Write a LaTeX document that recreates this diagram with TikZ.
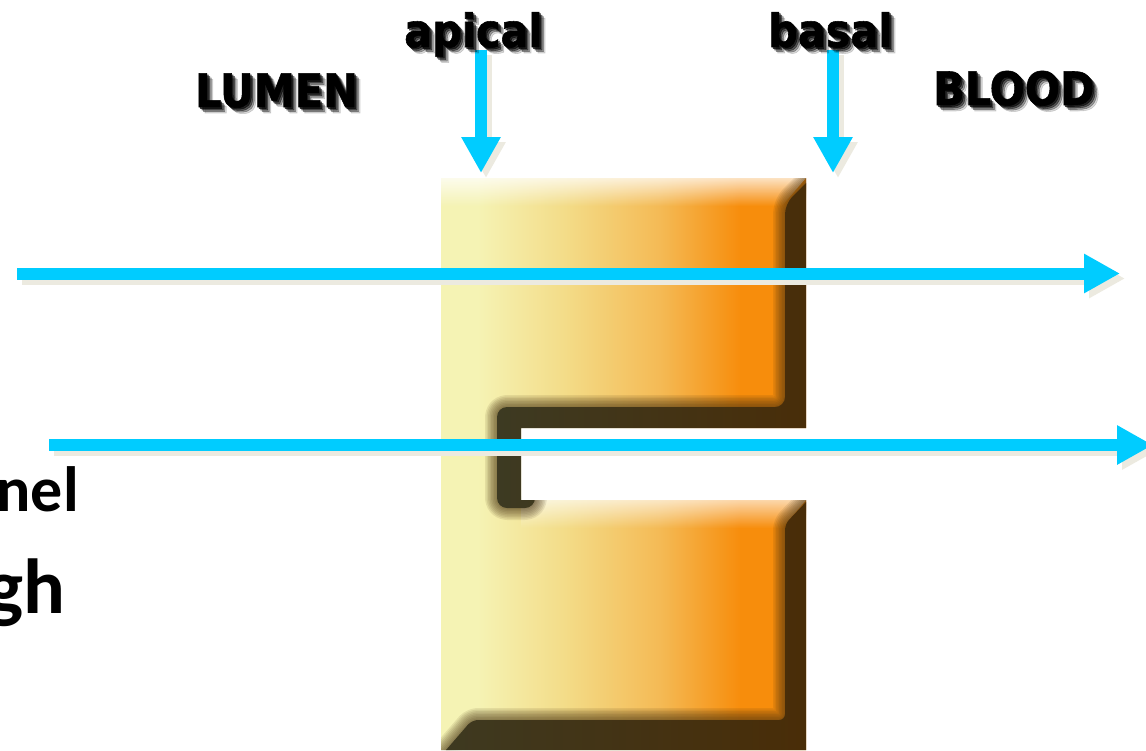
\documentclass[tikz,border=0pt]{standalone}
\usepackage{fontspec}
\newfontfamily\lblfont[FakeStretch=0.9,FakeBold=1.2]{DejaVu Sans}
\newfontfamily\bodyfont{Carlito}
\usetikzlibrary{arrows.meta,fadings}
\definecolor{arrowblue}{HTML}{00CCFF}
\definecolor{arrowshadow}{HTML}{ECEAE0}
\definecolor{cL}{HTML}{F5F3B4}
\definecolor{cM1}{HTML}{F3DC88}
\definecolor{cM2}{HTML}{F4BA55}
\definecolor{cR}{HTML}{F78D0C}
\definecolor{darkbrown}{HTML}{4A2C06}
\definecolor{darkolive}{HTML}{3D3A22}
\definecolor{halo}{HTML}{46300F}
\pgfdeclarehorizontalshading{blockshade}{100bp}{color(0bp)=(cL); color(25bp)=(cL); color(30bp)=(cL); color(42bp)=(cM1); color(55bp)=(cM2); color(66bp)=(cR); color(100bp)=(cR)}
\tikzfading[name=fadedown, top color=transparent!0, bottom color=transparent!100]
\tikzset{
  bluearrow/.style={draw=arrowblue, line width=12pt, -{Triangle[length=36pt,width=37pt]}},
  shadowarrow/.style={draw=arrowshadow, line width=12pt, -{Triangle[length=36pt,width=37pt]}},
  toplabel/.style={font=\lblfont\bfseries\fontsize{46}{46}\selectfont, inner sep=0pt, anchor=base west},
  labelshadow/.style={toplabel, text=black, text opacity=#1},
  bodytext/.style={font=\bodyfont\bfseries, inner sep=0pt, anchor=base east},
  halostroke/.style={draw=halo, line join=round}
}
\begin{document}
\begin{tikzpicture}[x=1pt,y=-1pt]
\useasboundingbox (0,0) rectangle (1146,750);
\fill[white] (0,0) rectangle (1146,750);

% block
\shade[shading=blockshade] (441,178) -- (806,178) -- (806,428) -- (521,428) -- (521,500) -- (806,500) -- (806,750) -- (441,750) -- cycle;
\begin{scope}
\clip (441,178) -- (806,178) -- (806,428) -- (521,428) -- (521,500) -- (806,500) -- (806,750) -- (441,750) -- cycle;
% top highlights
\fill[white, path fading=fadedown, fill opacity=0.75] (441,178) -- (806,178) -- (782,206) -- (441,206) -- cycle;
\fill[white, path fading=fadedown, fill opacity=0.65] (521,500) -- (806,500) -- (782,528) -- (521,528) -- cycle;
% dark bevels with soft edge
\foreach \w in {3,6,...,24}{
  \draw[halostroke, line width=\w pt, draw opacity=0.1, rounded corners=10pt] (785,204) -- (842,147) -- (842,470) -- (535,470) -- (535,508) -- (497,508) -- (497,407) -- (785,407) -- cycle;
  \draw[halostroke, line width=\w pt, draw opacity=0.1, rounded corners=6pt] (785,524) -- (832,475) -- (832,780) -- (420,780) -- (472,720) -- (785,720) -- cycle;
}
\shade[left color=darkolive, right color=darkbrown, rounded corners=10pt] (785,204) -- (842,147) -- (842,470) -- (535,470) -- (535,508) -- (497,508) -- (497,407) -- (785,407) -- cycle;
\shade[left color=darkolive, right color=darkbrown, rounded corners=6pt] (785,524) -- (832,475) -- (832,780) -- (420,780) -- (472,720) -- (785,720) -- cycle;
\end{scope}

% arrow end points
\coordinate (h1s) at (17,273.5);
\coordinate (h1e) at (1120,273.5);
\coordinate (h2s) at (49,445);
\coordinate (h2e) at (1153,445);
\coordinate (vas) at (481,50);
\coordinate (vae) at (481,173);
\coordinate (vbs) at (833,50);
\coordinate (vbe) at (833,173);

% shadows
\foreach \s/\e in {h1s/h1e, h2s/h2e, vas/vae, vbs/vbe}{
  \draw[shadowarrow] ([shift={(5,5)}]\s) -- ([shift={(5,5)}]\e);
}
% arrows
\draw[bluearrow] (h1s) -- (h1e);
\draw[bluearrow] (h2s) -- (h2e);
\draw[bluearrow] (vas) -- (vae);
\draw[bluearrow] (vbs) -- (vbe);

% label shadows
\foreach \dx/\o [count=\i] in {6/0.15, 4.5/0.3, 3/0.45, 1.5/0.6}{
  \node[labelshadow=\o] (apicalsh\i) at (404+\dx,47+\dx) {apical};
  \node[labelshadow=\o] (basalsh\i) at (768+\dx,47+\dx) {basal};
  \node[labelshadow=\o] (lumensh\i) at (195+\dx,107+\dx) {LUMEN};
  \node[labelshadow=\o] (bloodsh\i) at (933+\dx,105+\dx) {BLOOD};
}
\node[toplabel] (apical) at (404,47) {apical};
\node[toplabel] (basal) at (768,47) {basal};
\node[toplabel] (lumen) at (195,107) {LUMEN};
\node[toplabel] (blood) at (933,105) {BLOOD};

% cut-off body text at left
\node[bodytext, font=\bodyfont\bfseries\fontsize{64}{64}\selectfont] (nel) at (79,511) {nel};
\node[bodytext, font=\bodyfont\bfseries\fontsize{78}{78}\selectfont] (gh) at (66,613) {gh};
\end{tikzpicture}
\end{document}
